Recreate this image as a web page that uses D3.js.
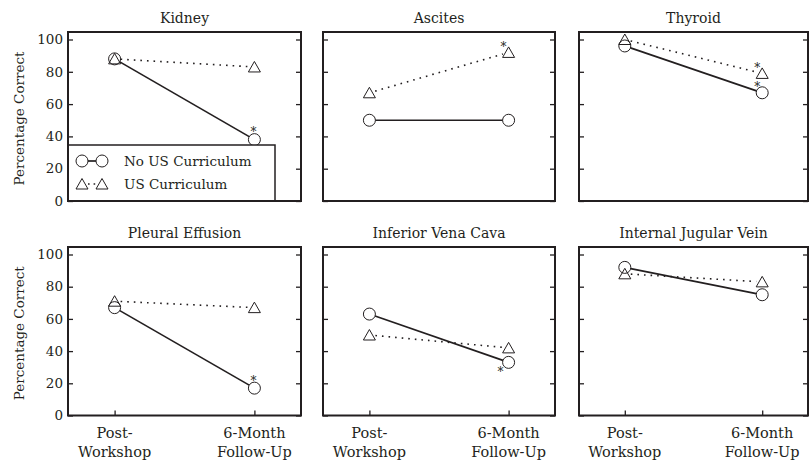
<!DOCTYPE html>
<html>
<head>
<meta charset="utf-8">
<script src="https://cdn.jsdelivr.net/npm/d3@7"></script>
<style>
body { margin: 0; background: white; }
</style>
</head>
<body>
<div class="rep"></div>
<script>
var panels = ["Kidney", "Ascites", "Thyroid", "Pleural Effusion", "Inferior Vena Cava", "Internal Jugular Vein"];
var timepoints = ["Post-Workshop", "6-Month Follow-Up"];
var timeLabels = [["Post-", "Workshop"], ["6-Month", "Follow-Up"]];
var seriesNames = ["No US Curriculum", "US Curriculum"];
var noUS = [[88, 38], [50, 50], [96, 67], [67, 17], [63, 33], [92, 75]];
var withUS = [[88, 83], [67, 92], [100, 79], [71, 67], [50, 42], [88, 83]];
var yTicks = [0, 20, 40, 60, 80, 100];
// significant changes (panel, series, point, where the star sits)
var stars = [
    {panel: 0, series: 0, point: 1, pos: "above"},
    {panel: 1, series: 1, point: 1, pos: "upleft"},
    {panel: 2, series: 1, point: 1, pos: "upleft"},
    {panel: 2, series: 0, point: 1, pos: "upleft"},
    {panel: 3, series: 0, point: 1, pos: "above"},
    {panel: 4, series: 0, point: 1, pos: "downleft"}
];

var W = 809, H = 462;
var colLeft = [68, 323, 579], colRight = [301, 555, 808];
var rowTop = [32, 247], rowBottom = [201, 415.5];
var ink = "#231f20";
var serif = "DejaVu Serif";
var r = 6;

var svg = d3.select(".rep").append("svg")
    .attr("width", W)
    .attr("height", H)
    .attr("font-family", serif)
    .style("font-family", serif);

function label(sel) {
    return sel.attr("font-family", serif).style("font-family", serif).attr("fill", ink);
}

function triPath(cx, cy) {
    return "M" + cx + "," + (cy - 5.5) + "L" + (cx + 6) + "," + (cy + 5) +
        "L" + (cx - 6) + "," + (cy + 5) + "Z";
}

// shorten a segment so it stops at the marker edge
function trimmed(x1, y1, x2, y2, d) {
    var len = Math.sqrt((x2 - x1) * (x2 - x1) + (y2 - y1) * (y2 - y1));
    var ux = (x2 - x1) / len, uy = (y2 - y1) / len;
    return [x1 + ux * d, y1 + uy * d, x2 - ux * d, y2 - uy * d];
}

var starOff = {above: [-1, -10], upleft: [-5, -8], downleft: [-8, 7]};

for (p = 0; p < panels.length; p++) {
    var row = Math.floor(p / 3), col = p % 3;
    var L = colLeft[col], R = colRight[col], T = rowTop[row], B = rowBottom[row];
    var x = d3.scalePoint().domain(timepoints).range([L, R]).padding(1 / 3);
    var y = d3.scaleLinear().domain([0, 100]).range([B, T + 7.5]);
    var g = svg.append("g");

    label(g.append("text"))
        .attr("x", (L + R) / 2)
        .attr("y", T - 9.5)
        .attr("text-anchor", "middle")
        .style("font-size", "14px")
        .text(panels[p]);

    // inward ticks on left and right
    g.append("g")
        .attr("transform", "translate(" + L + ",0)")
        .call(d3.axisRight(y).tickValues(yTicks).tickSize(5).tickFormat(""))
        .call(function (a) { a.select(".domain").remove(); a.selectAll("line").attr("stroke", ink).attr("stroke-width", 1.3); });
    g.append("g")
        .attr("transform", "translate(" + R + ",0)")
        .call(d3.axisLeft(y).tickValues(yTicks).tickSize(5).tickFormat(""))
        .call(function (a) { a.select(".domain").remove(); a.selectAll("line").attr("stroke", ink).attr("stroke-width", 1.3); });

    if (col == 0) {
        label(g.selectAll("text.ylab").data(yTicks).enter().append("text"))
            .attr("class", "ylab")
            .attr("x", L - 5)
            .attr("y", function (d) { return y(d); })
            .attr("dy", "0.35em")
            .attr("text-anchor", "end")
            .style("font-size", "13.5px")
            .text(function (d) { return d; });
        label(g.append("text"))
            .attr("transform", "translate(24," + ((T + B) / 2 + 2) + ") rotate(-90)")
            .attr("text-anchor", "middle")
            .style("font-size", "13.5px")
            .text("Percentage Correct");
    }

    if (row == 1) {
        g.append("g")
            .attr("transform", "translate(0," + B + ")")
            .call(d3.axisTop(x).tickSize(5).tickFormat(""))
            .call(function (a) { a.select(".domain").remove(); a.selectAll("line").attr("stroke", ink).attr("stroke-width", 1.3); });
        for (k = 0; k < timepoints.length; k++) {
            for (j = 0; j < 2; j++) {
                label(g.append("text"))
                    .attr("x", x(timepoints[k]))
                    .attr("y", 438 + j * 19)
                    .attr("text-anchor", "middle")
                    .style("font-size", "14.5px")
                    .text(timeLabels[k][j]);
            }
        }
    }

    // series lines, cut at marker edges
    var sets = [noUS[p], withUS[p]];
    for (s = 0; s < 2; s++) {
        var v = sets[s];
        var seg = trimmed(x(timepoints[0]), y(v[0]), x(timepoints[1]), y(v[1]), r);
        g.append("line")
            .attr("x1", seg[0]).attr("y1", seg[1])
            .attr("x2", seg[2]).attr("y2", seg[3])
            .attr("stroke", ink)
            .attr("stroke-width", s == 0 ? 1.7 : 1.6)
            .attr("stroke-dasharray", s == 0 ? null : "1.6,5");
    }
    g.selectAll("circle.m").data(noUS[p]).enter().append("circle")
        .attr("class", "m")
        .attr("cx", function (d, i) { return x(timepoints[i]); })
        .attr("cy", function (d) { return y(d); })
        .attr("r", r)
        .attr("fill", "none")
        .attr("stroke", ink)
        .attr("stroke-width", 1);
    g.selectAll("path.m").data(withUS[p]).enter().append("path")
        .attr("class", "m")
        .attr("d", function (d, i) { return triPath(x(timepoints[i]), y(d)); })
        .attr("fill", "none")
        .attr("stroke", ink)
        .attr("stroke-width", 1);

    stars.filter(function (st) { return st.panel == p; }).forEach(function (st) {
        var v = sets[st.series][st.point];
        var off = starOff[st.pos];
        label(g.append("text"))
            .attr("x", x(timepoints[st.point]) + off[0])
            .attr("y", y(v) + off[1] + 6.5)
            .attr("text-anchor", "middle")
            .style("font-size", "12px")
            .text("*");
    });

    // frame
    g.append("rect")
        .attr("x", L).attr("y", T)
        .attr("width", R - L).attr("height", B - T)
        .attr("fill", "none")
        .attr("stroke", ink)
        .attr("stroke-width", 2);

    // legend sits in the first panel
    if (p == 0) {
        var lg = svg.append("g");
        lg.append("rect")
            .attr("x", L).attr("y", 145)
            .attr("width", 207).attr("height", B - 145)
            .attr("fill", "white")
            .attr("stroke", ink)
            .attr("stroke-width", 1.5);
        lg.append("line")
            .attr("x1", L).attr("x2", L).attr("y1", 145).attr("y2", B)
            .attr("stroke", ink).attr("stroke-width", 2);
        lg.append("line")
            .attr("x1", L).attr("x2", L + 207).attr("y1", B).attr("y2", B)
            .attr("stroke", ink).attr("stroke-width", 2);
        for (s = 0; s < seriesNames.length; s++) {
            var ly = 161 + s * 23;
            lg.append("line")
                .attr("x1", 88).attr("x2", 96)
                .attr("y1", ly).attr("y2", ly)
                .attr("stroke", ink)
                .attr("stroke-width", s == 0 ? 1.7 : 1.6)
                .attr("stroke-dasharray", s == 0 ? null : "1.6,4");
            [82, 102].forEach(function (cx) {
                if (s == 0) {
                    lg.append("circle").attr("cx", cx).attr("cy", ly).attr("r", r)
                        .attr("fill", "none").attr("stroke", ink).attr("stroke-width", 1);
                } else {
                    lg.append("path").attr("d", triPath(cx, ly))
                        .attr("fill", "none").attr("stroke", ink).attr("stroke-width", 1);
                }
            });
            label(lg.append("text"))
                .attr("x", 124)
                .attr("y", ly + 5)
                .style("font-size", "13.5px")
                .text(seriesNames[s]);
        }
    }
}
</script>
</body>
</html>
